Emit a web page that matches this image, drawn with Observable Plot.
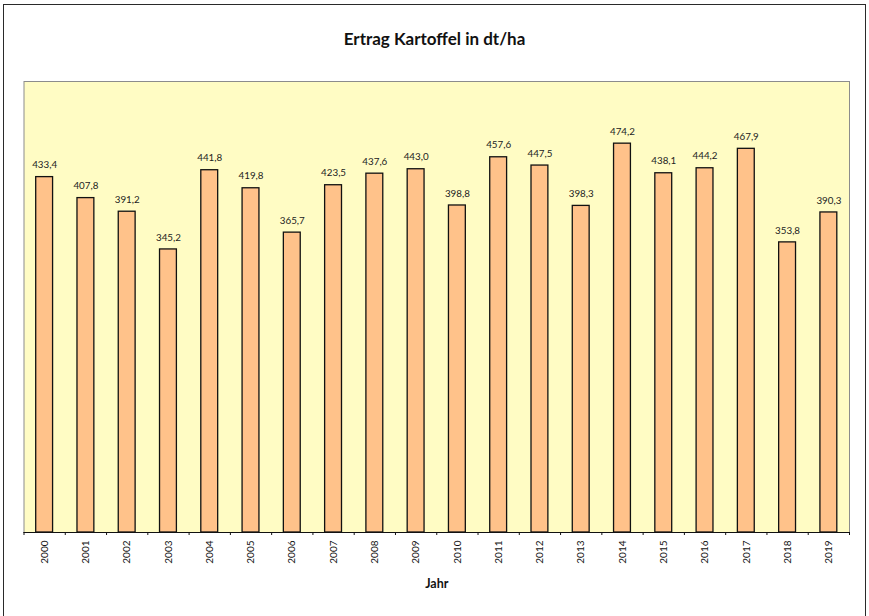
<!DOCTYPE html>
<html>
<head>
<meta charset="utf-8">
<script src="https://cdn.jsdelivr.net/npm/d3@7"></script>
<script src="https://cdn.jsdelivr.net/npm/@observablehq/plot@0.6"></script>
<style>
  html, body { margin: 0; padding: 0; background: #fff; }
  #wrap { position: relative; width: 869px; height: 616px; overflow: hidden; font-family: Lato, "Noto Sans", sans-serif; }
  #border { position: absolute; left: 3px; top: 4px; width: 863px; height: 640px; border: 1.5px solid #2a2a2a; box-sizing: border-box; }
  #title { position: absolute; left: 0; width: 869px; top: 28px; text-align: center; font-weight: bold; font-size: 17px; color: #111; }
  #chart { position: absolute; left: 0; top: 0; }
</style>
</head>
<body>
<div id="wrap">
  <div id="border"></div>
  <div id="title">Ertrag Kartoffel in dt/ha</div>
  <div id="chart"></div>
</div>
<script>
const years = [2000, 2001, 2002, 2003, 2004, 2005, 2006, 2007, 2008, 2009, 2010, 2011, 2012, 2013, 2014, 2015, 2016, 2017, 2018, 2019];
const ertrag = [433.4, 407.8, 391.2, 345.2, 441.8, 419.8, 365.7, 423.5, 437.6, 443.0, 398.8, 457.6, 447.5, 398.3, 474.2, 438.1, 444.2, 467.9, 353.8, 390.3];
const xTitle = "Jahr";

const data = years.map((y, i) => ({year: y, value: ertrag[i]}));
const fmt = v => v.toFixed(1).replace(".", ",");
const boundaries = years.map(y => y - 0.5).concat([years[years.length - 1] + 0.5]);

const plot = Plot.plot({
  width: 869,
  height: 616,
  marginLeft: 23.5,
  marginRight: 20,
  marginTop: 81,
  marginBottom: 84,
  style: {fontFamily: "Lato, 'Noto Sans', sans-serif", background: "transparent", color: "#111"},
  x: {domain: [years[0] - 0.5, years[years.length - 1] + 0.5], axis: null},
  y: {domain: [0, 550], axis: null},
  marks: [
    Plot.frame({fill: "#FFFCC4", stroke: "#8c8c8c", strokeWidth: 1}),
    Plot.rectY(data, {x1: d => d.year - 0.5, x2: d => d.year + 0.5, y: "value", insetLeft: 12.2, insetRight: 12.2, fill: "#FFC28A", stroke: "#111", strokeWidth: 1.3}),
    Plot.text(data, {x: "year", y: "value", text: d => fmt(d.value), dy: -12, fontSize: 9.8, fill: "#222"}),
    Plot.ruleY([0], {stroke: "#111", strokeWidth: 1.2}),
    Plot.axisX({ticks: boundaries, tickFormat: () => "", tickSize: 3, stroke: "#111", label: null}),
    Plot.axisX({ticks: years, tickFormat: d => String(d), tickSize: 0, tickPadding: 8, tickRotate: -90, fontSize: 10, label: null}),
    Plot.text([xTitle], {frameAnchor: "bottom", dy: 55, fontWeight: "bold", fontSize: 12.5, fill: "#111"})
  ]
});
document.getElementById("chart").appendChild(plot);
</script>
</body>
</html>
